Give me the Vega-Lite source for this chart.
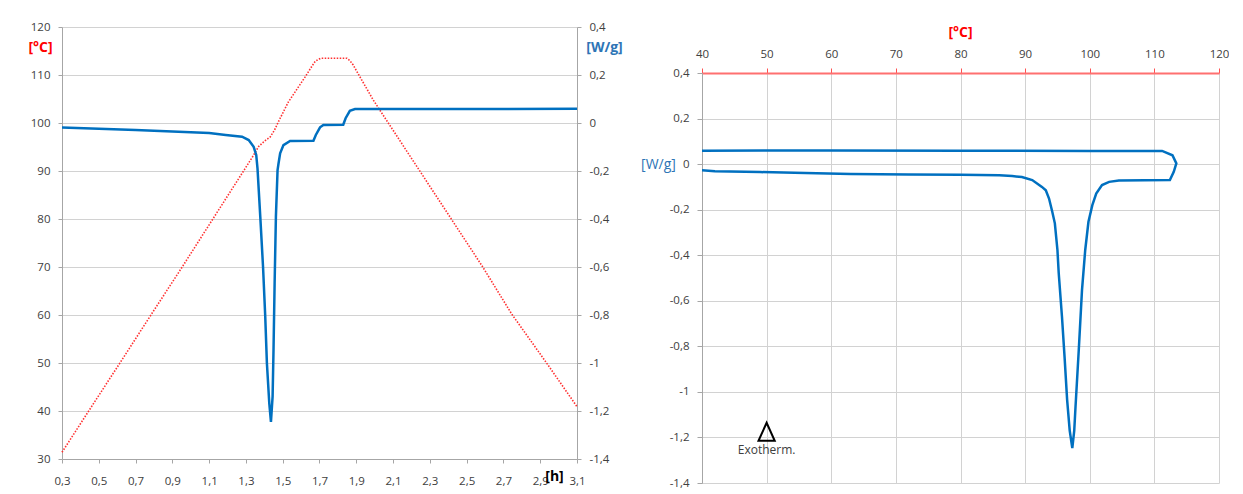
{
  "$schema": "https://vega.github.io/schema/vega-lite/v6.json",
  "autosize": {"type": "pad"},
  "padding": {"left": 27, "top": 21, "right": 0, "bottom": 0},
  "background": "white",
  "spacing": 17,
  "config": {
    "view": {"stroke": null},
    "font": "Open Sans",
    "axis": {
      "labelFont": "Open Sans",
      "labelFontSize": 11.5,
      "labelColor": "#404040",
      "labelFlush": false,
      "labelOverlap": false,
      "domainColor": "#a6a6a6",
      "tickColor": "#a6a6a6",
      "gridColor": "#d2d2d2",
      "titleFont": "Open Sans"
    }
  },
  "datasets": {
    "temp": [
      {"t": 0.3, "T": 31.4}, {"t": 0.44, "T": 39.7}, {"t": 0.62, "T": 50.3}, {"t": 0.78, "T": 59.8},
      {"t": 0.95, "T": 69.8}, {"t": 1.297, "T": 90.6}, {"t": 1.34, "T": 93.2}, {"t": 1.369, "T": 95.1},
      {"t": 1.40, "T": 96.2}, {"t": 1.432, "T": 97.1}, {"t": 1.455, "T": 98.5}, {"t": 1.477, "T": 100.3},
      {"t": 1.531, "T": 104.4}, {"t": 1.622, "T": 109.6}, {"t": 1.66, "T": 111.9}, {"t": 1.676, "T": 112.8},
      {"t": 1.695, "T": 113.3}, {"t": 1.712, "T": 113.5}, {"t": 1.848, "T": 113.5}, {"t": 1.865, "T": 113.0},
      {"t": 1.883, "T": 112.1}, {"t": 1.905, "T": 110.6}, {"t": 1.929, "T": 109.0}, {"t": 1.992, "T": 104.8},
      {"t": 2.586, "T": 70.1}, {"t": 2.745, "T": 60.2}, {"t": 2.931, "T": 50.2}, {"t": 3.1, "T": 40.9}
    ],
    "dsc": [
      {"t": 0.3, "q": -0.019}, {"t": 0.5, "q": -0.024}, {"t": 0.7, "q": -0.029}, {"t": 0.9, "q": -0.035},
      {"t": 1.1, "q": -0.042}, {"t": 1.19, "q": -0.05}, {"t": 1.279, "q": -0.057}, {"t": 1.315, "q": -0.071},
      {"t": 1.342, "q": -0.099}, {"t": 1.356, "q": -0.133}, {"t": 1.363, "q": -0.19}, {"t": 1.378, "q": -0.39},
      {"t": 1.393, "q": -0.599}, {"t": 1.405, "q": -0.807}, {"t": 1.414, "q": -1.0}, {"t": 1.427, "q": -1.168},
      {"t": 1.436, "q": -1.245}, {"t": 1.445, "q": -1.14}, {"t": 1.45, "q": -0.946}, {"t": 1.456, "q": -0.668},
      {"t": 1.463, "q": -0.39}, {"t": 1.472, "q": -0.196}, {"t": 1.477, "q": -0.17}, {"t": 1.486, "q": -0.126},
      {"t": 1.504, "q": -0.092}, {"t": 1.54, "q": -0.075}, {"t": 1.667, "q": -0.074}, {"t": 1.68, "q": -0.05},
      {"t": 1.703, "q": -0.018}, {"t": 1.721, "q": -0.008}, {"t": 1.829, "q": -0.007}, {"t": 1.842, "q": 0.02},
      {"t": 1.865, "q": 0.051}, {"t": 1.893, "q": 0.058}, {"t": 3.1, "q": 0.059}
    ],
    "loop": [
      {"i": 1, "T": 40, "q": -0.027}, {"i": 2, "T": 42, "q": -0.031}, {"i": 3, "T": 49, "q": -0.035},
      {"i": 4, "T": 56, "q": -0.039}, {"i": 5, "T": 63, "q": -0.043}, {"i": 6, "T": 72, "q": -0.046},
      {"i": 7, "T": 80, "q": -0.047}, {"i": 8, "T": 86, "q": -0.049}, {"i": 9, "T": 88, "q": -0.052},
      {"i": 10, "T": 89.5, "q": -0.057}, {"i": 11, "T": 91.1, "q": -0.07}, {"i": 12, "T": 92.6, "q": -0.1},
      {"i": 13, "T": 93.2, "q": -0.115}, {"i": 14, "T": 93.7, "q": -0.151}, {"i": 15, "T": 94.2, "q": -0.209},
      {"i": 16, "T": 94.6, "q": -0.26}, {"i": 17, "T": 95.0, "q": -0.377}, {"i": 18, "T": 95.2, "q": -0.479},
      {"i": 19, "T": 95.7, "q": -0.669}, {"i": 20, "T": 96.1, "q": -0.845}, {"i": 21, "T": 96.5, "q": -1.035},
      {"i": 22, "T": 96.9, "q": -1.17}, {"i": 23, "T": 97.3, "q": -1.247}, {"i": 24, "T": 97.6, "q": -1.17},
      {"i": 25, "T": 97.8, "q": -1.064}, {"i": 26, "T": 98.3, "q": -0.816}, {"i": 27, "T": 98.8, "q": -0.553},
      {"i": 28, "T": 99.3, "q": -0.377}, {"i": 29, "T": 99.8, "q": -0.253}, {"i": 30, "T": 100.4, "q": -0.18},
      {"i": 31, "T": 101.0, "q": -0.129}, {"i": 32, "T": 101.9, "q": -0.092}, {"i": 33, "T": 103.0, "q": -0.078},
      {"i": 34, "T": 104.5, "q": -0.072}, {"i": 35, "T": 112.4, "q": -0.07}, {"i": 36, "T": 113.0, "q": -0.034},
      {"i": 37, "T": 113.4, "q": 0.003}, {"i": 38, "T": 112.8, "q": 0.039}, {"i": 39, "T": 111.2, "q": 0.058},
      {"i": 40, "T": 100, "q": 0.058}, {"i": 41, "T": 80, "q": 0.059}, {"i": 42, "T": 60, "q": 0.06},
      {"i": 43, "T": 40, "q": 0.059}
    ],
    "exo": [
      {"T": 50, "q": -1.175, "qt": -1.255, "label": "Exotherm."}
    ]
  },
  "hconcat": [
    {
      "width": 515,
      "height": 432,
      "layer": [
        {
          "data": {"name": "temp"},
          "mark": {"type": "line", "color": "#ff3030", "strokeDash": [1.5, 1.5], "strokeWidth": 1.6},
          "encoding": {
            "x": {
              "field": "t", "type": "quantitative",
              "scale": {"domain": [0.3, 3.1], "nice": false, "zero": false},
              "axis": {
                "values": [0.3, 0.5, 0.7, 0.9, 1.1, 1.3, 1.5, 1.7, 1.9, 2.1, 2.3, 2.5, 2.7, 2.9, 3.1],
                "labelExpr": "replace(format(datum.value, '.1f'), '.', ',')",
                "labelOverlap": false, "labelFlush": false,
                "grid": false, "tickSize": 4, "labelPadding": 12,
                "title": "[h]", "titleFontSize": 14, "titleFontWeight": "bold", "titleColor": "#000000",
                "titleX": 492, "titleY": 17, "titleBaseline": "middle", "titleAlign": "center"
              }
            },
            "y": {
              "field": "T", "type": "quantitative",
              "scale": {"domain": [30, 120], "nice": false, "zero": false},
              "axis": {
                "orient": "left",
                "values": [30, 40, 50, 60, 70, 80, 90, 100, 110, 120],
                "labelOverlap": false, "labelFlush": false,
                "grid": true, "tickSize": 4, "labelPadding": 8,
                "title": "[°C]", "titleFontSize": 14, "titleFontWeight": "bold", "titleColor": "#ff0000",
                "titleAngle": 0, "titleX": -22, "titleY": 20, "titleBaseline": "middle", "titleAlign": "center"
              }
            }
          }
        },
        {
          "data": {"name": "dsc"},
          "mark": {"type": "line", "color": "#0070c0", "strokeWidth": 2.5},
          "encoding": {
            "x": {
              "field": "t", "type": "quantitative",
              "scale": {"domain": [0.3, 3.1], "nice": false, "zero": false},
              "axis": {
                "values": [0.3, 0.5, 0.7, 0.9, 1.1, 1.3, 1.5, 1.7, 1.9, 2.1, 2.3, 2.5, 2.7, 2.9, 3.1],
                "labelExpr": "replace(format(datum.value, '.1f'), '.', ',')",
                "labelOverlap": false, "labelFlush": false,
                "grid": false, "tickSize": 4, "labelPadding": 12,
                "title": "[h]", "titleFontSize": 14, "titleFontWeight": "bold", "titleColor": "#000000",
                "titleX": 492, "titleY": 17, "titleBaseline": "middle", "titleAlign": "center"
              }
            },
            "y": {
              "field": "q", "type": "quantitative",
              "scale": {"domain": [-1.4, 0.4], "nice": false, "zero": false},
              "axis": {
                "orient": "right",
                "values": [-1.4, -1.2, -1, -0.8, -0.6, -0.4, -0.2, 0, 0.2, 0.4],
                "labelExpr": "replace(replace(format(datum.value, '.1~f'), '.', ','), '−', '-')",
                "labelOverlap": false, "labelFlush": false,
                "grid": false, "tickSize": 4, "labelPadding": 8,
                "title": "[W/g]", "titleFontSize": 14, "titleFontWeight": "bold", "titleColor": "#2e75b6",
                "titleAngle": 0, "titleX": 27, "titleY": 20, "titleBaseline": "middle", "titleAlign": "center"
              }
            }
          }
        }
      ],
      "resolve": {"scale": {"y": "independent"}}
    },
    {
      "spacing": -3,
      "vconcat": [
        {
          "width": 517,
          "height": 1,
          "data": {"values": []},
          "mark": {"type": "text", "text": "", "opacity": 0}
        },
        {
          "width": 517,
          "height": 410,
          "layer": [
            {
              "data": {"name": "loop"},
              "mark": {"type": "line", "color": "#0070c0", "strokeWidth": 2.5},
              "encoding": {
                "x": {
                  "field": "T", "type": "quantitative",
                  "scale": {"domain": [40, 120], "nice": false, "zero": false},
                  "axis": {
                    "orient": "top",
                    "values": [40, 50, 60, 70, 80, 90, 100, 110, 120],
                    "labelOverlap": false, "labelFlush": false,
                    "grid": true, "tickSize": 5, "labelPadding": 9,
                    "domainColor": "#ff7070", "domainWidth": 2, "tickColor": "#ff5050",
                    "title": "[°C]", "titleFontSize": 14, "titleFontWeight": "bold", "titleColor": "#ff0000",
                    "titleX": 258, "titleY": -41, "titleBaseline": "middle", "titleAlign": "center"
                  }
                },
                "y": {
                  "field": "q", "type": "quantitative",
                  "scale": {"domain": [-1.4, 0.4], "nice": false, "zero": false},
                  "axis": {
                    "values": [-1.4, -1.2, -1, -0.8, -0.6, -0.4, -0.2, 0, 0.2, 0.4],
                    "labelExpr": "replace(replace(format(datum.value, '.1~f'), '.', ','), '−', '-')",
                    "labelOverlap": false, "labelFlush": false,
                    "grid": true, "tickSize": 5, "labelPadding": 8,
                    "title": "[W/g]", "titleFontSize": 14, "titleFontWeight": "normal", "titleColor": "#2e75b6",
                    "titleAngle": 0, "titleX": -44, "titleY": 91, "titleBaseline": "middle", "titleAlign": "center"
                  }
                },
                "order": {"field": "i", "type": "quantitative"}
              }
            },
            {
              "data": {"name": "exo"},
              "mark": {"type": "point", "shape": "M-0.9,1L0,-1L0.9,1Z", "filled": false, "stroke": "#000000", "strokeWidth": 2, "size": 324, "opacity": 1},
              "encoding": {
                "x": {"field": "T", "type": "quantitative"},
                "y": {"field": "q", "type": "quantitative"}
              }
            },
            {
              "data": {"name": "exo"},
              "mark": {"type": "text", "fontSize": 12, "color": "#404040", "font": "Open Sans"},
              "encoding": {
                "x": {"field": "T", "type": "quantitative"},
                "y": {"field": "qt", "type": "quantitative"},
                "text": {"field": "label"}
              }
            }
          ]
        }
      ]
    }
  ]
}
